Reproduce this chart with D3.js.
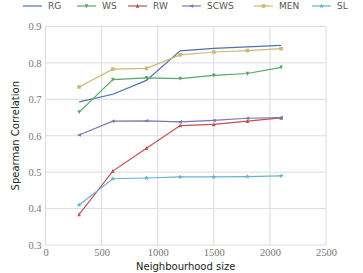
<!DOCTYPE html>
<html>
<head>
<meta charset="utf-8">
<script src="https://cdn.jsdelivr.net/npm/d3@7"></script>
<style>
  body { margin: 0; background: #fff; }
  svg { display: block; }
</style>
</head>
<body>
<svg id="chart" width="363" height="273"></svg>
<script>
// neighbourhood sizes
const sizes = [300, 600, 900, 1200, 1500, 1800, 2100];

// correlation per method
const rg   = [0.693, 0.714, 0.752, 0.833, 0.840, 0.844, 0.848];
const ws   = [0.665, 0.754, 0.759, 0.757, 0.766, 0.771, 0.788];
const rw   = [0.384, 0.503, 0.566, 0.628, 0.631, 0.640, 0.649];
const scws = [0.602, 0.640, 0.641, 0.638, 0.642, 0.648, 0.650];
const men  = [0.734, 0.783, 0.785, 0.822, 0.830, 0.834, 0.839];
const sl   = [0.410, 0.482, 0.484, 0.487, 0.487, 0.488, 0.490];

const xTicks = [0, 500, 1000, 1500, 2000, 2500];
const yTicks = [0.3, 0.4, 0.5, 0.6, 0.7, 0.8, 0.9];

const series = [
    { name: 'RG',   values: rg,   color: '#4C72B0', marker: null },
    { name: 'WS',   values: ws,   color: '#55A868', marker: 'tridown' },
    { name: 'RW',   values: rw,   color: '#C44E52', marker: 'triup' },
    { name: 'SCWS', values: scws, color: '#8172B2', marker: 'trileft' },
    { name: 'MEN',  values: men,  color: '#CCB974', marker: 'square' },
    { name: 'SL',   values: sl,   color: '#64B5CD', marker: 'star' },
];

const margin = { top: 26.5, right: 37, bottom: 28, left: 45.5 };
const width = 363, height = 273;

const svg = d3.select('#chart');

const x = d3.scaleLinear().domain([0, 2500]).range([margin.left, width - margin.right]);
const y = d3.scaleLinear().domain([0.3, 0.9]).range([height - margin.bottom, margin.top]);

// grid
const grid = svg.append('g').attr('stroke', '#dcdcdc').attr('stroke-width', 1);
grid.selectAll('.gx').data(xTicks).join('line')
    .attr('x1', d => x(d)).attr('x2', d => x(d))
    .attr('y1', y(0.3)).attr('y2', y(0.9));
grid.selectAll('.gy').data(yTicks).join('line')
    .attr('x1', x(0)).attr('x2', x(2500))
    .attr('y1', d => y(d)).attr('y2', d => y(d));

// axes (ticks only as text, serif like the original)
const xAxis = svg.append('g')
    .attr('transform', `translate(0,${y(0.3)})`)
    .call(d3.axisBottom(x).tickValues(xTicks).tickSize(0).tickPadding(4).tickFormat(d3.format('d')));
const yAxis = svg.append('g')
    .attr('transform', `translate(${x(0)},0)`)
    .call(d3.axisLeft(y).tickValues(yTicks).tickSize(0).tickPadding(4).tickFormat(d3.format('.1f')));
[xAxis, yAxis].forEach(a => {
    a.select('.domain').remove();
    a.selectAll('text')
        .attr('fill', '#777')
        .style('font-family', '"Liberation Serif", serif')
        .style('font-size', '10.5px');
});

// axis titles
svg.append('text')
    .attr('x', x(1250)).attr('y', 270)
    .attr('text-anchor', 'middle')
    .style('font-family', '"DejaVu Sans", sans-serif')
    .style('font-size', '10px')
    .attr('fill', '#222')
    .text('Neighbourhood size');
svg.append('text')
    .attr('transform', `translate(19,${y(0.6)}) rotate(-90)`)
    .attr('text-anchor', 'middle')
    .style('font-family', '"DejaVu Sans", sans-serif')
    .style('font-size', '10px')
    .attr('fill', '#222')
    .text('Spearman Correlation');

function drawMarker(g, type, cx, cy, color) {
    const s = 1.8;
    if (type === 'square') {
        g.append('rect').attr('x', cx - s).attr('y', cy - s).attr('width', 2 * s).attr('height', 2 * s).attr('fill', color);
    } else if (type === 'triup') {
        g.append('path').attr('d', `M${cx},${cy - s - 0.4}L${cx + s},${cy + s}L${cx - s},${cy + s}Z`).attr('fill', color);
    } else if (type === 'tridown') {
        g.append('path').attr('d', `M${cx},${cy + s + 0.4}L${cx + s},${cy - s}L${cx - s},${cy - s}Z`).attr('fill', color);
    } else if (type === 'trileft') {
        g.append('path').attr('d', `M${cx - s - 0.4},${cy}L${cx + s},${cy - s}L${cx + s},${cy + s}Z`).attr('fill', color);
    } else if (type === 'star') {
        g.append('path').attr('d', d3.symbol(d3.symbolStar, 9)()).attr('transform', `translate(${cx},${cy})`).attr('fill', color);
    }
}

const line = d3.line().x((d, i) => x(sizes[i])).y(d => y(d));

series.forEach(s => {
    const g = svg.append('g');
    g.append('path')
        .datum(s.values)
        .attr('fill', 'none')
        .attr('stroke', s.color)
        .attr('stroke-width', 1.2)
        .attr('d', line);
    if (s.marker) {
        s.values.forEach((v, i) => drawMarker(g, s.marker, x(sizes[i]), y(v), s.color));
    }
});

// legend along the top
const legendX = [23, 77, 128, 182, 254, 312];
const legend = svg.append('g');
series.forEach((s, i) => {
    const lx = legendX[i], ly = 6;
    legend.append('line')
        .attr('x1', lx).attr('x2', lx + 19)
        .attr('y1', ly).attr('y2', ly)
        .attr('stroke', s.color).attr('stroke-width', 1.2);
    if (s.marker) drawMarker(legend, s.marker, lx + 9.5, ly, s.color);
    legend.append('text')
        .attr('x', lx + 25).attr('y', ly + 3.2)
        .style('font-family', '"DejaVu Sans", sans-serif')
        .style('font-size', '9px')
        .attr('fill', '#555')
        .text(s.name);
});
</script>
</body>
</html>
